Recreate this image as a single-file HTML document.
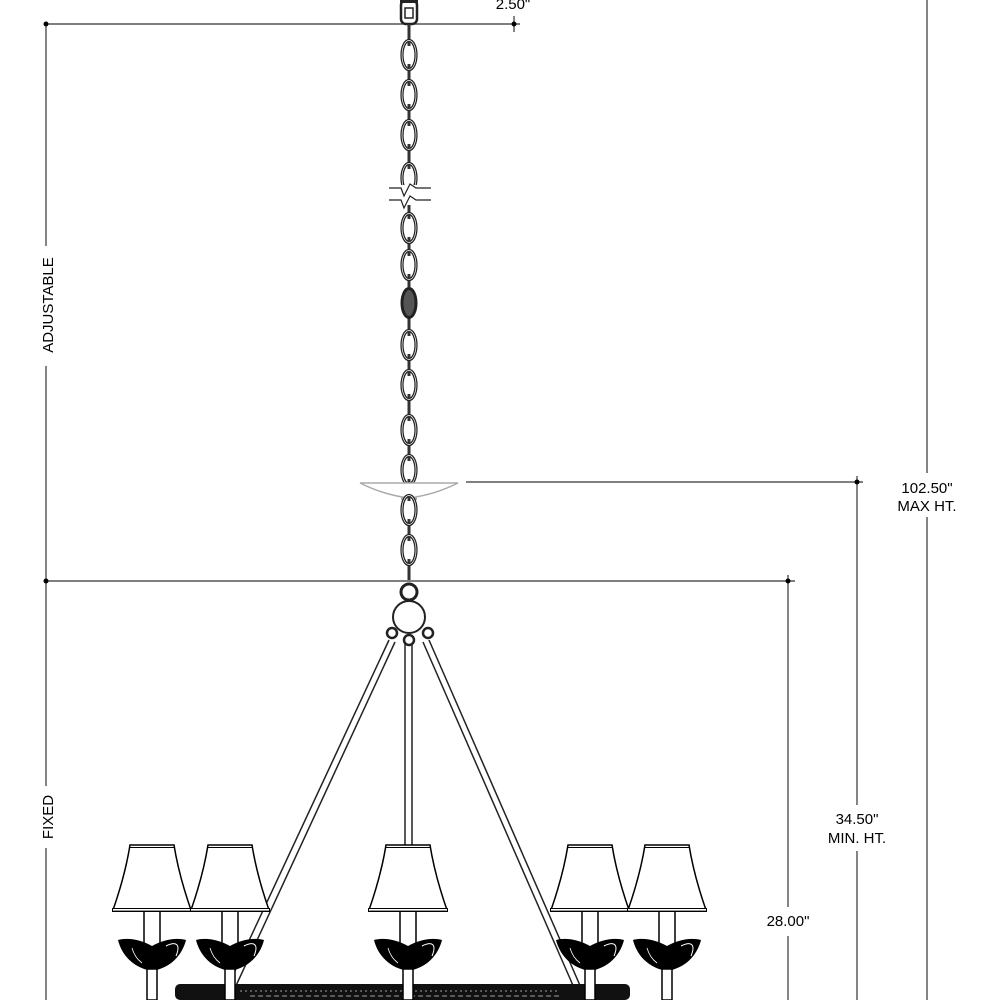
<!DOCTYPE html>
<html><head><style>html,body{margin:0;padding:0;background:#fff}svg{display:block}</style></head>
<body>
<svg width="1000" height="1000" viewBox="0 0 1000 1000" xmlns="http://www.w3.org/2000/svg" font-family="Liberation Sans, sans-serif">
<defs>
<g id="lamp">
  <path d="M-22,845 L22,845 C26,870 32,890 39,910 L-39,910 C-32,890 -26,870 -22,845 Z" fill="#fff" stroke="#000" stroke-width="1.5"/>
  <line x1="-22" y1="847.5" x2="22" y2="847.5" stroke="#000" stroke-width="1"/>
  <rect x="-40" y="908" width="80" height="4" fill="#000"/>
  <rect x="-39" y="909" width="78" height="1.6" fill="#fff"/>
  <line x1="-8" y1="912" x2="-8" y2="945" stroke="#000" stroke-width="1.5"/>
  <line x1="8" y1="912" x2="8" y2="945" stroke="#000" stroke-width="1.5"/>
  <path d="M-34,940 C-24,937 -10,940 0,946 C10,940 24,937 34,940 C30,956 18,968 0,971 C-18,968 -30,956 -34,940 Z" fill="#000"/>
  <path d="M14,946 C24,941 29,944 24,956" stroke="#fff" stroke-width="1" fill="none"/>
  <path d="M-20,948 C-18,955 -14,960 -10,963" stroke="#fff" stroke-width="0.8" fill="none"/>
  <rect x="-5" y="969" width="10" height="31" fill="#fff" stroke="#000" stroke-width="1.5"/>
</g>
<g id="link"><ellipse cx="0" cy="0" rx="7" ry="14.5" fill="#fff" stroke="#222" stroke-width="3.2"/><ellipse cx="0" cy="0" rx="7" ry="14.5" fill="none" stroke="#fff" stroke-width="0.7"/><line x1="0" y1="-14" x2="0" y2="-9" stroke="#333" stroke-width="3"/><line x1="0" y1="9" x2="0" y2="14" stroke="#333" stroke-width="3"/></g>
</defs>

<!-- dimension lines -->
<g stroke="#333" stroke-width="1.2">
  <line x1="46" y1="24" x2="520" y2="24"/>
  <line x1="514" y1="16" x2="514" y2="32"/>
  <line x1="46" y1="24" x2="46" y2="246"/>
  <line x1="46" y1="366" x2="46" y2="786"/>
  <line x1="46" y1="848" x2="46" y2="1000"/>
  <line x1="46" y1="581" x2="795" y2="581"/>
  <line x1="466" y1="482" x2="863" y2="482"/>
  <line x1="857" y1="476" x2="857" y2="805"/>
  <line x1="857" y1="851" x2="857" y2="1000"/>
  <line x1="788" y1="575" x2="788" y2="907"/>
  <line x1="788" y1="936" x2="788" y2="1000"/>
  <line x1="927" y1="0" x2="927" y2="473"/>
  <line x1="927" y1="517" x2="927" y2="1000"/>
</g>
<g fill="#000">
  <circle cx="514" cy="24" r="2.5"/><circle cx="46" cy="24" r="2.5"/><circle cx="46" cy="581" r="2.5"/>
  <circle cx="788" cy="581" r="2.5"/><circle cx="857" cy="482" r="2.5"/>
</g>
<g font-size="15" fill="#000" text-anchor="middle">
  <text x="513" y="9">2.50"</text>
  <text x="927" y="493">102.50"</text>
  <text x="927" y="511">MAX HT.</text>
  <text x="857" y="824">34.50"</text>
  <text x="857" y="843">MIN. HT.</text>
  <text x="788" y="926">28.00"</text>
  <text transform="translate(53,305) rotate(-90)">ADJUSTABLE</text>
  <text transform="translate(53,817) rotate(-90)">FIXED</text>
</g>

<!-- top canopy piece -->
<rect x="401" y="0" width="16" height="24" rx="5" fill="#fff" stroke="#222" stroke-width="2.5"/>
<rect x="405" y="8" width="8" height="10" fill="#fff" stroke="#222" stroke-width="1.5"/>
<rect x="400" y="0" width="18" height="3" fill="#222"/>

<!-- chain spine -->
<line x1="409" y1="24" x2="409" y2="580" stroke="#333" stroke-width="3"/>
<g>
  <use href="#link" x="409" y="55"/><use href="#link" x="409" y="95"/><use href="#link" x="409" y="135"/>
  <use href="#link" x="409" y="178"/><use href="#link" x="409" y="228"/><use href="#link" x="409" y="265"/>
  <ellipse cx="409" cy="303" rx="7" ry="14.5" fill="#555" stroke="#222" stroke-width="3"/>
  <use href="#link" x="409" y="345"/><use href="#link" x="409" y="385"/><use href="#link" x="409" y="430"/>
  <use href="#link" x="409" y="470"/>
</g>
<!-- break symbol -->
<rect x="388" y="185" width="44" height="20" fill="#fff"/>
<path d="M389,188 L401,188 L404,196 L410,184 L416,188 L431,188" fill="none" stroke="#222" stroke-width="1.2"/>
<path d="M389,200 L401,200 L404,208 L410,196 L416,200 L431,200" fill="none" stroke="#222" stroke-width="1.2"/>

<!-- ceiling saucer (gray) -->
<path d="M360,483 L458,483 C440,492 425,496 409,498 C393,496 378,492 360,483 Z" fill="#fff" stroke="#aaa" stroke-width="1.5"/>
<rect x="401" y="497" width="16" height="3" fill="#aaa"/>
<use href="#link" x="409" y="510"/>
<use href="#link" x="409" y="550"/>

<!-- balls -->
<circle cx="409" cy="592" r="8" fill="#fff" stroke="#222" stroke-width="3"/>
<circle cx="409" cy="617" r="16" fill="#fff" stroke="#222" stroke-width="2"/>

<!-- arms -->
<g stroke="#222" stroke-width="1.5" fill="none">
  <line x1="389" y1="640" x2="226" y2="990"/>
  <line x1="395" y1="642" x2="234" y2="990"/>
  <line x1="429" y1="640" x2="582" y2="990"/>
  <line x1="423" y1="642" x2="575" y2="990"/>
  <line x1="405" y1="642" x2="405" y2="845"/>
  <line x1="412" y1="642" x2="412" y2="845"/>
</g>
<g fill="#fff" stroke="#222" stroke-width="2.5">
  <circle cx="392" cy="633" r="5"/><circle cx="428" cy="633" r="5"/><circle cx="409" cy="640" r="5"/>
</g>

<!-- bar -->
<rect x="175" y="984" width="455" height="16" rx="5" fill="#111"/>
<g stroke="#fff" stroke-width="1" opacity="0.6">
  <line x1="240" y1="991" x2="560" y2="991" stroke-dasharray="2,3"/>
  <line x1="250" y1="996" x2="560" y2="996" stroke-dasharray="5,3"/>
</g>

<!-- lamps -->
<use href="#lamp" x="152"/>
<use href="#lamp" x="230"/>
<use href="#lamp" x="408"/>
<use href="#lamp" x="590"/>
<use href="#lamp" x="667"/>
</svg>
</body></html>
